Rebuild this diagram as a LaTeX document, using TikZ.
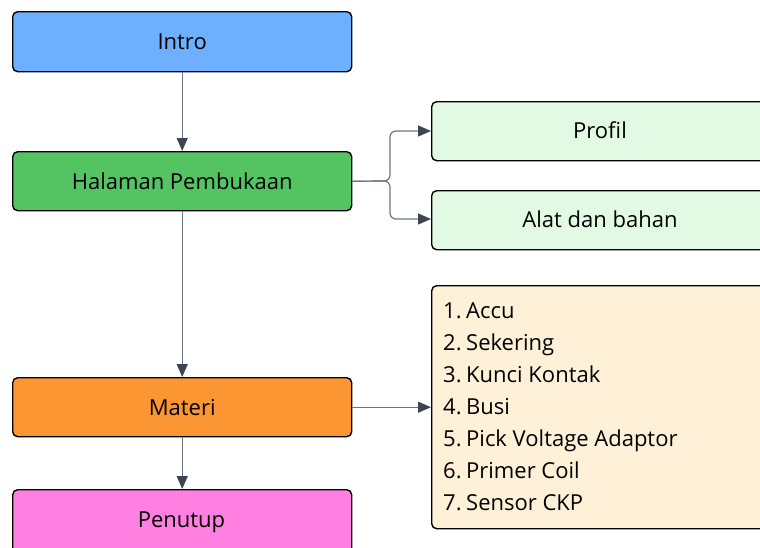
\documentclass[tikz,border=0pt]{standalone}
\usepackage{fontspec}
\setmainfont{Open Sans}
\usetikzlibrary{arrows.meta}
\definecolor{cIntro}{RGB}{108,176,255}
\definecolor{cHal}{RGB}{84,196,98}
\definecolor{cMat}{RGB}{251,150,51}
\definecolor{cPen}{RGB}{255,128,224}
\definecolor{cSub}{RGB}{226,250,228}
\definecolor{cList}{RGB}{255,240,216}
\definecolor{cLine}{RGB}{110,116,128}
\definecolor{cHead}{RGB}{62,68,82}
\tikzset{
  txt/.style={font=\fontsize{22}{26}\selectfont, text=black},
  box/.style={draw=black, line width=1.4pt, rounded corners=5pt, inner sep=0pt, anchor=north west, txt},
  conn/.style={draw=cLine, line width=1.2pt, -{Triangle[length=13pt,width=11pt,fill=cHead,color=cHead]}},
  item/.style={anchor=base west, inner sep=0pt, txt},
}
\begin{document}
\begin{tikzpicture}[x=1pt,y=-1pt]
\useasboundingbox (0,0) rectangle (760,547);
\clip (0,0) rectangle (760,547);
\node[box, fill=cIntro, minimum width=339pt, minimum height=60pt] (intro) at (12,11) {Intro};
\node[box, fill=cHal, minimum width=339pt, minimum height=59pt] (hal) at (12,151) {Halaman Pembukaan};
\node[box, fill=cMat, minimum width=339pt, minimum height=59pt] (mat) at (12,377) {Materi};
\node[box, fill=cPen, minimum width=339pt, minimum height=70pt] (pen) at (12,489) {};
\node[txt, anchor=base] (pent) at (181.5,527) {Penutup};
\node[box, fill=cSub, minimum width=345pt, minimum height=59pt] (prof) at (431,101) {};
\node[txt, anchor=base] (proft) at (600,138.5) {Profil};
\node[box, fill=cSub, minimum width=345pt, minimum height=59pt] (alat) at (431,190) {};
\node[txt, anchor=base] (alatt) at (600,227.5) {Alat dan bahan};
\node[box, fill=cList, minimum width=345pt, minimum height=243pt] (list) at (431,285) {};
\foreach \n/\t [count=\i from 0] in {1./Accu,2./Sekering,3./Kunci Kontak,4./Busi,5./Pick Voltage Adaptor,6./Primer Coil,7./Sensor CKP}{
  \node[item] (n\i) at (443,{318+32*\i}) {\n};
  \node[item] (t\i) at (466,{318+32*\i}) {\t};
}
\draw[conn] (intro.south) -- (hal.north);
\draw[conn] (hal.south) -- (mat.north);
\draw[conn] (mat.south) -- (pen.north);
\draw[conn] (mat.east) -- (mat.east -| list.west);
\coordinate (br) at (390,181);
\draw[conn, rounded corners=6pt] (hal.east) -- (br) -- (390,131) -- (431,131);
\draw[conn, rounded corners=6pt] (hal.east) -- (br) -- (390,219) -- (431,219);
\end{tikzpicture}
\end{document}
